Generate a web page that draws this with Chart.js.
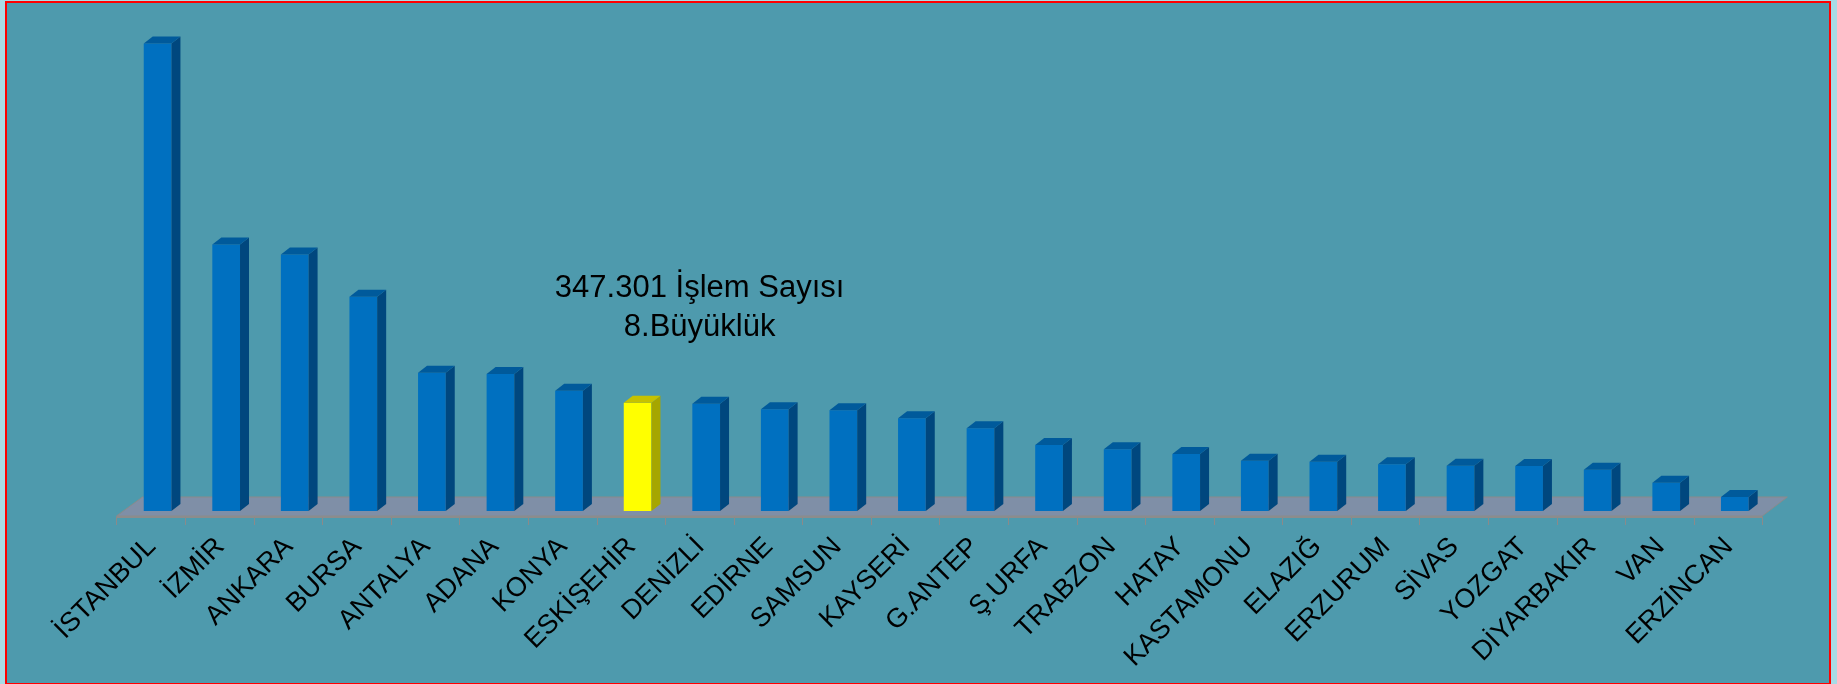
<!DOCTYPE html>
<html>
<head>
<meta charset="utf-8">
<script src="https://cdn.jsdelivr.net/npm/chart.js@4"></script>
<style>
    html, body { margin: 0; padding: 0; background: #a8dbe6; }
    #frame {
        position: absolute; left: 5px; top: 1px; width: 1826px; height: 684px;
        box-sizing: border-box; border: 2px solid #ff0000; background: #4e9aad;
    }
    #cityChart { position: absolute; left: 0; top: 0; }
</style>
</head>
<body>
<div id="frame"></div>
<canvas id="cityChart" width="1837" height="684"></canvas>
<script>
const categories = ['İSTANBUL', 'İZMİR', 'ANKARA', 'BURSA', 'ANTALYA', 'ADANA', 'KONYA', 'ESKİŞEHİR',
    'DENİZLİ', 'EDİRNE', 'SAMSUN', 'KAYSERİ', 'G.ANTEP', 'Ş.URFA', 'TRABZON', 'HATAY',
    'KASTAMONU', 'ELAZIĞ', 'ERZURUM', 'SİVAS', 'YOZGAT', 'DİYARBAKIR', 'VAN', 'ERZİNCAN'];

const islemSayisi = [1500000, 855300, 823200, 687300, 443500, 439400, 385800, 347301,
    344100, 326200, 322900, 297300, 265200, 211700, 197900, 182800,
    161300, 158100, 149800, 145300, 144300, 132500, 90800, 44900];

const highlightCity = 'ESKİŞEHİR';
const noteLines = ['347.301 İşlem Sayısı', '8.Büyüklük'];

const FONT = "'Liberation Sans', Arial, sans-serif";

const frontColors = categories.map(c => c === highlightCity ? '#ffff00' : '#0070c0');
const sideColors = categories.map(c => c === highlightCity ? '#a6a600' : '#00477e');
const topColors = categories.map(c => c === highlightCity ? '#c6c200' : '#005a9b');

// depth of the 3D boxes
const DX = 9, DY = 7;

const floorPlugin = {
    id: 'floor',
    beforeDatasetsDraw(chart) {
        const { ctx, chartArea, scales: { x } } = chart;
        const step = x.getPixelForValue(1) - x.getPixelForValue(0);
        const left = x.getPixelForValue(0) - step / 2 - 6.8;
        const right = left + step * categories.length;
        const base = chartArea.bottom;
        ctx.save();
        ctx.fillStyle = '#7f8fa7';
        ctx.strokeStyle = '#8a8a8a';
        ctx.lineWidth = 1;
        ctx.beginPath();
        ctx.moveTo(left, base + 5);
        ctx.lineTo(left + 26, base - 14);
        ctx.lineTo(right + 25, base - 14);
        ctx.lineTo(right, base + 5);
        ctx.closePath();
        ctx.fill();
        ctx.stroke();
        ctx.fillStyle = '#8c8c8c';
        ctx.fillRect(left, base + 5, right - left, 2);
        ctx.beginPath();
        for (let i = 0; i <= categories.length; i++) {
            const px = Math.round(left + step * i) + 0.5;
            ctx.moveTo(px, base + 6);
            ctx.lineTo(px, base + 14);
        }
        ctx.stroke();
        ctx.restore();
    },
    afterDatasetsDraw(chart) {
        const { ctx } = chart;
        const bars = chart.getDatasetMeta(0).data;
        ctx.save();
        bars.forEach((bar, i) => {
            const l = bar.x - bar.width / 2, r = bar.x + bar.width / 2;
            const t = bar.y, b = bar.base;
            ctx.fillStyle = sideColors[i];
            ctx.beginPath();
            ctx.moveTo(r, t);
            ctx.lineTo(r + DX, t - DY);
            ctx.lineTo(r + DX, b - DY);
            ctx.lineTo(r, b);
            ctx.closePath();
            ctx.fill();
            ctx.fillStyle = topColors[i];
            ctx.beginPath();
            ctx.moveTo(l, t);
            ctx.lineTo(l + DX, t - DY);
            ctx.lineTo(r + DX, t - DY);
            ctx.lineTo(r, t);
            ctx.closePath();
            ctx.fill();
        });

        // note above the highlighted bar
        const idx = categories.indexOf(highlightCity);
        const cx = chart.scales.x.getPixelForValue(idx) + 62;
        ctx.fillStyle = '#000';
        ctx.font = '31px ' + FONT;
        ctx.textAlign = 'center';
        ctx.textBaseline = 'alphabetic';
        ctx.fillText(noteLines[0], cx, 297);
        ctx.fillText(noteLines[1], cx, 336);
        ctx.restore();
    }
};

const chart = new Chart(document.getElementById('cityChart'), {
    type: 'bar',
    data: {
        labels: categories,
        datasets: [{
            data: islemSayisi,
            backgroundColor: frontColors,
            borderWidth: 0,
            barPercentage: 0.404,
            categoryPercentage: 1
        }]
    },
    options: {
        responsive: false,
        animation: false,
        layout: { padding: { left: 123.3, right: 67.9, top: 31, bottom: 0 } },
        plugins: {
            legend: { display: false },
            tooltip: { enabled: false }
        },
        scales: {
            y: { display: false, min: 0, max: 1540000 },
            x: {
                grid: { display: false, drawTicks: false },
                border: { display: false },
                ticks: {
                    color: '#000',
                    font: { family: FONT, size: 27 },
                    maxRotation: 45,
                    minRotation: 45,
                    autoSkip: false,
                    padding: 20,
                    labelOffset: -6
                },
                afterFit: s => { s.height = 173; }
            }
        }
    },
    plugins: [floorPlugin]
});
</script>
</body>
</html>
